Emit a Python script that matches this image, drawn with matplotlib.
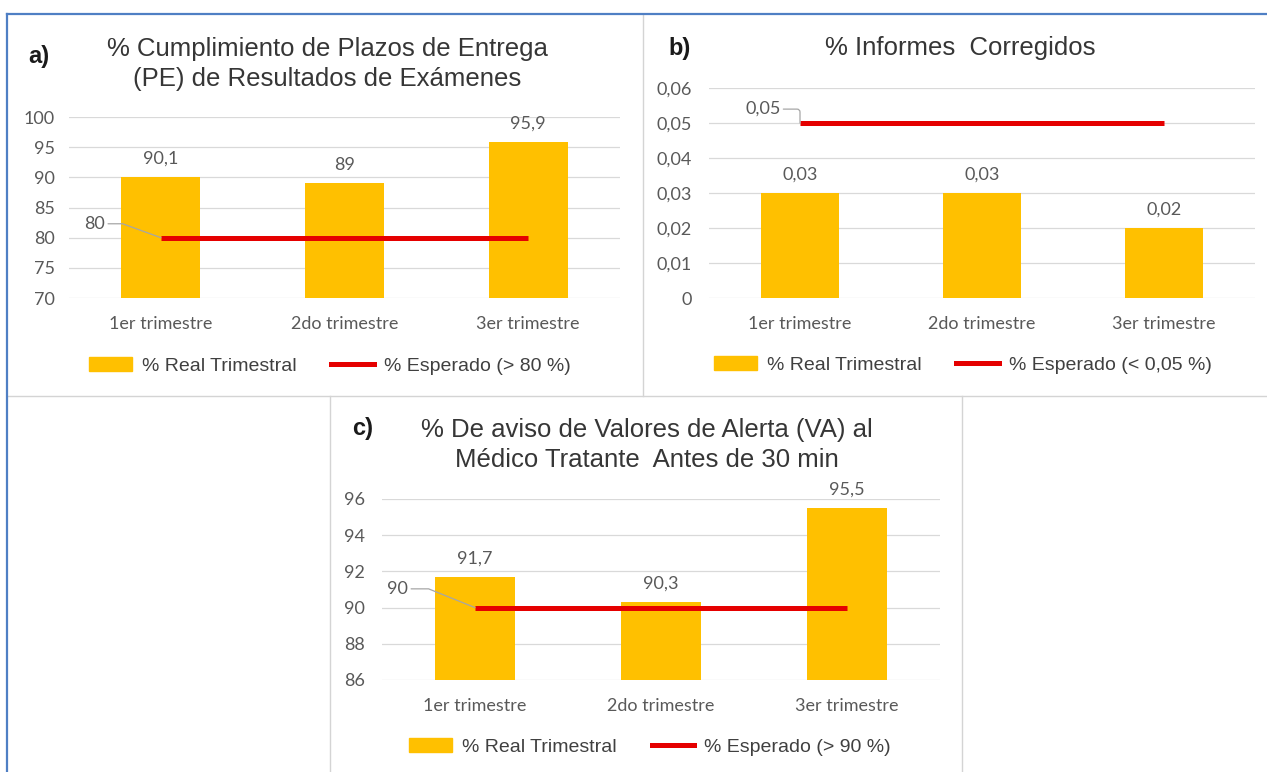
import numpy as np
import matplotlib
matplotlib.use("Agg")
import matplotlib.pyplot as plt
from matplotlib.lines import Line2D
from matplotlib.patches import Patch

#------------------------------------------------------------------------------
# Datos
#------------------------------------------------------------------------------

categorias = ["1er trimestre", "2do trimestre", "3er trimestre"]

plazos_real = [90.1, 89, 95.9]
plazos_meta = 80

informes_real = [0.03, 0.03, 0.02]
informes_meta = 0.05

alerta_real = [91.7, 90.3, 95.5]
alerta_meta = 90

#------------------------------------------------------------------------------

W, H = 1267, 772
AMARILLO = "#FFC000"
ROJO = "#E50000"
GRIS_TXT = "#595959"
NUM_FONT = "Lato"
TXT_FONT = "Liberation Sans"

def coma(v):
    return ("%g" % v).replace(".", ",")

def px(x0, y0, x1, y1):
    # rectangle in pixels (top-left origin) -> figure fraction
    return [x0 / W, 1 - y1 / H, (x1 - x0) / W, (y1 - y0) / H]

def panel(rect, real, meta, ymin, ymax, paso, leyenda, lbl_off, conn, ypad):
    ax = fig.add_axes(px(*rect))
    x = np.arange(len(categorias))
    barras = ax.bar(x, real, width=0.43, color=AMARILLO, zorder=2)
    ax.bar_label(barras, labels=[coma(v) for v in real], padding=7.5,
                 fontsize=13, family=NUM_FONT, color=GRIS_TXT)
    ax.plot(x, [meta] * len(x), color=ROJO, lw=3.6, zorder=3,
            solid_capstyle="butt")
    ax.annotate(coma(meta), xy=(0, meta), xytext=lbl_off,
                textcoords="offset points", ha="right", va="center",
                fontsize=13, family=NUM_FONT, color=GRIS_TXT,
                arrowprops=dict(arrowstyle="-", color="#A6A6A6", lw=0.9,
                                shrinkA=0, shrinkB=0, connectionstyle=conn))

    ax.set_xlim(-0.5, len(x) - 0.5)
    ax.set_ylim(ymin, ymax)
    ticks = np.arange(ymin, ymax + paso / 2, paso)
    ax.set_yticks(ticks)
    ax.set_yticklabels([coma(round(t, 4)) for t in ticks])
    ax.set_xticks(x)
    ax.set_xticklabels(categorias)
    ax.tick_params(length=0, labelsize=13, labelcolor=GRIS_TXT)
    ax.tick_params(axis="x", pad=13)
    ax.tick_params(axis="y", pad=ypad)
    for t in ax.get_xticklabels() + ax.get_yticklabels():
        t.set_family(NUM_FONT)
    ax.grid(axis="y", color="#D9D9D9", lw=0.9, zorder=0)
    ax.set_axisbelow(True)
    for s in ax.spines.values():
        s.set_visible(False)
    ax.patch.set_alpha(0)

    handles = [Patch(color=AMARILLO, label="% Real Trimestral"),
               Line2D([], [], color=ROJO, lw=3.6, label=leyenda)]
    return ax, handles

def leyenda(ax, handles, cx, cy):
    ax.legend(handles=handles, loc="center", ncol=2, frameon=False,
              bbox_to_anchor=(cx / W, 1 - cy / H),
              bbox_transform=fig.transFigure,
              prop={"family": TXT_FONT, "size": 14},
              labelcolor="#404040", handlelength=2.2, handleheight=0.7,
              handletextpad=0.5, columnspacing=1.8)

fig = plt.figure(figsize=(W / 100, H / 100), dpi=100)
fig.patch.set_facecolor("white")

# a) plazos de entrega
ax_a, h_a = panel((69, 117, 620, 298), plazos_real, plazos_meta, 70, 100, 5,
                  "% Esperado (> 80 %)", (-40, 10),
                  "angle,angleA=0,angleB=160,rad=0", 10)
leyenda(ax_a, h_a, 330, 366)

# b) informes corregidos
ax_b, h_b = panel((709, 88, 1255, 298), informes_real, informes_meta, 0, 0.06,
                  0.01, "% Esperado (< 0,05 %)", (-14, 10),
                  "angle,angleA=0,angleB=90,rad=3", 12.5)
leyenda(ax_b, h_b, 963, 365)

# c) aviso de valores de alerta
ax_c, h_c = panel((382, 499, 940, 680), alerta_real, alerta_meta, 86, 96, 2,
                  "% Esperado (> 90 %)", (-48, 13.5),
                  "angle,angleA=0,angleB=158,rad=0", 12.5)
leyenda(ax_c, h_c, 650, 747)

# titulos
tit = dict(family=TXT_FONT, size=18.5, color="#363636", ha="center",
           va="center", linespacing=1.3)
fig.text(327 / W, 1 - 64 / H,
         "% Cumplimiento de Plazos de Entrega\n(PE) de Resultados de Exámenes",
         **tit)
fig.text(960 / W, 1 - 48 / H, "% Informes  Corregidos", **tit)
fig.text(647 / W, 1 - 445 / H,
         "% De aviso de Valores de Alerta (VA) al\nMédico Tratante  Antes de 30 min",
         **tit)

letra = dict(family=TXT_FONT, size=17, weight="bold", color="#1a1a1a",
             ha="center", va="center")
fig.text(39 / W, 1 - 56 / H, "a)", **letra)
fig.text(680 / W, 1 - 48 / H, "b)", **letra)
fig.text(363 / W, 1 - 429 / H, "c)", **letra)

# marcos
def linea(x0, y0, x1, y1, **kw):
    fig.add_artist(Line2D([x0 / W, x1 / W], [1 - y0 / H, 1 - y1 / H],
                          transform=fig.transFigure, **kw))

gris = dict(color="#D4D4D4", lw=1.0)
linea(8, 396, W, 396, **gris)
linea(643, 15, 643, 396, **gris)
linea(330, 396, 330, H, **gris)
linea(962, 396, 962, H, **gris)

azul = dict(color="#4F7FC4", lw=1.6)
linea(7, 14, W, 14, **azul)
linea(7, 14, 7, H, **azul)

fig.savefig("out.png", dpi=100)
